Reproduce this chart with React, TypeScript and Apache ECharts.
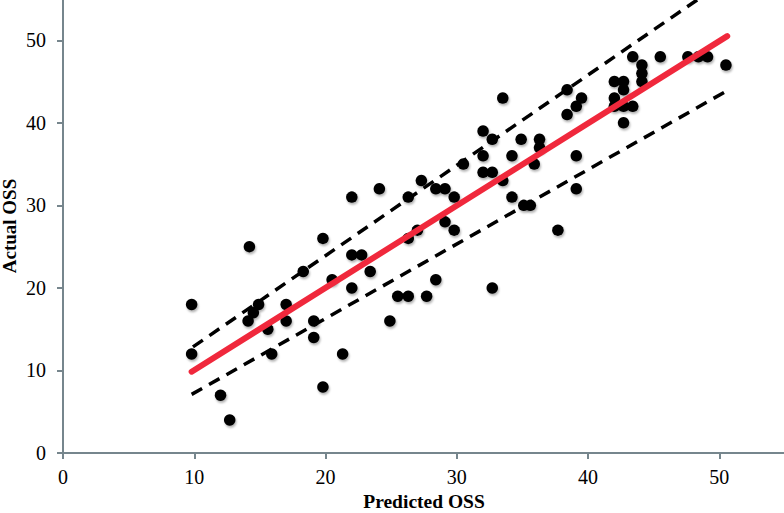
import React, { useEffect, useRef } from "react";
import * as echarts from "echarts";

const predicted = [
  9.8, 9.8, 12.0, 12.7, 14.2, 14.1, 14.5, 14.9, 15.6, 15.9,
  17.0, 17.0, 18.3, 19.1, 19.1, 19.8, 19.8, 20.5, 21.3, 22.0,
  22.0, 22.75, 22.0, 23.4, 24.1, 24.9, 25.5, 26.3, 26.3, 26.3,
  27.0, 27.3, 27.7, 28.4, 28.4, 29.1, 29.8, 29.1, 29.8, 30.5,
  32.0, 32.7, 32.0, 32.0, 32.7, 32.7, 33.5, 33.5, 34.2, 34.2,
  34.9, 35.1, 35.6, 35.9, 36.3, 36.3, 37.7, 38.4, 38.4, 39.1,
  39.5, 39.1, 39.1, 42.0, 42.7, 42.7, 42.0, 42.0, 42.7, 43.4,
  42.7, 43.4, 44.1, 44.1, 44.1, 45.5, 47.6, 48.4, 49.1, 50.5,
];
const actual = [
  18, 12, 7, 4, 25, 16, 17, 18, 15, 12,
  18, 16, 22, 16, 14, 26, 8, 21, 12, 31,
  24, 24, 20, 22, 32, 16, 19, 19, 31, 26,
  27, 33, 19, 21, 32, 32, 31, 28, 27, 35,
  39, 38, 36, 34, 34, 20, 43, 33, 36, 31,
  38, 30, 30, 35, 38, 37, 27, 44, 41, 42,
  43, 36, 32, 45, 45, 44, 43, 42, 42, 42,
  40, 48, 47, 46, 45, 48, 48, 48, 48, 47,
];
const fitLine = [[9.8, 9.85], [50.6, 50.5]];
const upperBound = [[9.9, 12.85], [50.6, 57.4]];
const lowerBound = [[9.8, 7.1], [50.6, 43.9]];
const xTicks = [0, 10, 20, 30, 40, 50];
const yTicks = [0, 10, 20, 30, 40, 50];

export default function App() {
  const ref = useRef<HTMLDivElement>(null);
  useEffect(() => {
    if (!ref.current) return;
    const chart = echarts.init(ref.current, null, { renderer: "svg" });
    const axisColor = "#76868d";
    const font = "Liberation Serif";
    const points = predicted.map((x, i) => [x, actual[i]]);
    chart.setOption({
      animation: false,
      backgroundColor: "#ffffff",
      grid: {
        left: 63,
        right: -1,
        top: -1,
        bottom: 60,
        containLabel: false,
        outerBoundsMode: "none",
      },
      xAxis: {
        type: "value",
        min: 0,
        max: 55,
        interval: 10,
        name: "Predicted OSS",
        nameLocation: "middle",
        nameGap: 37,
        nameTextStyle: { fontFamily: font, fontSize: 19.5, fontWeight: "bold", color: "#000" },
        axisLine: { show: true, lineStyle: { color: axisColor, width: 2 } },
        axisTick: { show: true, length: 6, lineStyle: { color: axisColor, width: 2 } },
        axisLabel: {
          fontFamily: font,
          fontSize: 20,
          color: "#000",
          margin: 14,
          formatter: (v: number) => (xTicks.includes(v) ? String(v) : ""),
        },
        splitLine: { show: false },
      },
      yAxis: {
        type: "value",
        min: 0,
        max: 55,
        interval: 10,
        name: "Actual OSS",
        nameLocation: "middle",
        nameGap: 44,
        nameMoveOverlap: false,
        nameTextStyle: { fontFamily: font, fontSize: 19, fontWeight: "bold", color: "#000" },
        axisLine: { show: true, lineStyle: { color: axisColor, width: 2 } },
        axisTick: { show: true, length: 6, lineStyle: { color: axisColor, width: 2 } },
        axisLabel: {
          fontFamily: font,
          fontSize: 20,
          color: "#000",
          margin: 17,
          formatter: (v: number) => (yTicks.includes(v) ? String(v) : ""),
        },
        splitLine: { show: false },
      },
      series: [
        {
          type: "scatter",
          data: points,
          symbol: "circle",
          symbolSize: 11.5,
          z: 2,
          itemStyle: {
            color: "#000",
            opacity: 1,
            shadowBlur: 2,
            shadowColor: "rgba(0,0,0,0.3)",
            shadowOffsetX: 1,
            shadowOffsetY: 2,
          },
        },
        {
          type: "line",
          data: upperBound,
          showSymbol: false,
          symbol: "none",
          z: 3,
          clip: true,
          lineStyle: { color: "#000", width: 3.5, type: [12, 8] },
        },
        {
          type: "line",
          data: lowerBound,
          showSymbol: false,
          symbol: "none",
          z: 3,
          clip: true,
          lineStyle: { color: "#000", width: 3.5, type: [12, 8] },
        },
        {
          type: "line",
          data: fitLine,
          showSymbol: false,
          symbol: "none",
          z: 4,
          clip: true,
          lineStyle: { color: "#f0283c", width: 6, cap: "round" },
        },
      ],
    });
    return () => chart.dispose();
  }, []);
  return (
    <div
      ref={ref}
      style={{ position: "fixed", left: 0, top: 0, width: 784, height: 513 }}
    />
  );
}
